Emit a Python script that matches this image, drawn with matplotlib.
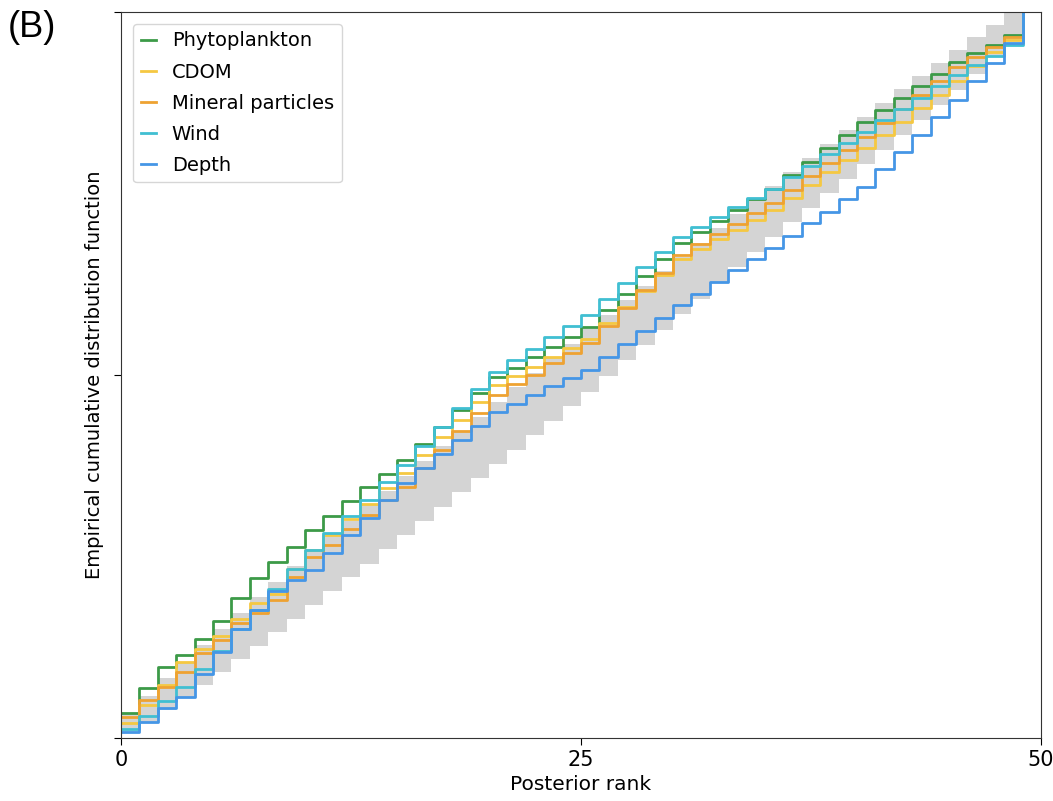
import numpy as np
import matplotlib
matplotlib.use("Agg")
import matplotlib.pyplot as plt

# posterior ranks 0..49, ECDF values
ranks = np.arange(50)

phytoplankton = [0.034, 0.069, 0.098, 0.114, 0.136, 0.161, 0.193, 0.220, 0.242, 0.263,
                 0.286, 0.306, 0.326, 0.345, 0.364, 0.383, 0.405, 0.428, 0.452, 0.475,
                 0.497, 0.510, 0.524, 0.538, 0.552, 0.566, 0.590, 0.612, 0.636, 0.659,
                 0.682, 0.697, 0.712, 0.727, 0.742, 0.756, 0.775, 0.793, 0.812, 0.830,
                 0.848, 0.865, 0.882, 0.898, 0.915, 0.931, 0.944, 0.955, 0.968, 1.0]

cdom = [0.020, 0.045, 0.072, 0.105, 0.122, 0.140, 0.164, 0.186, 0.198, 0.232,
        0.258, 0.280, 0.301, 0.322, 0.344, 0.365, 0.390, 0.414, 0.438, 0.462,
        0.486, 0.498, 0.511, 0.524, 0.537, 0.550, 0.572, 0.594, 0.616, 0.638,
        0.660, 0.673, 0.687, 0.700, 0.714, 0.727, 0.744, 0.761, 0.779, 0.796,
        0.813, 0.831, 0.849, 0.868, 0.886, 0.905, 0.925, 0.945, 0.962, 1.0]

mineral = [0.028, 0.052, 0.070, 0.091, 0.117, 0.135, 0.158, 0.172, 0.190, 0.222,
           0.249, 0.266, 0.287, 0.307, 0.327, 0.346, 0.372, 0.397, 0.422, 0.447,
           0.472, 0.487, 0.500, 0.516, 0.530, 0.544, 0.568, 0.592, 0.617, 0.641,
           0.665, 0.680, 0.694, 0.708, 0.723, 0.737, 0.755, 0.774, 0.792, 0.810,
           0.828, 0.847, 0.866, 0.886, 0.905, 0.924, 0.938, 0.952, 0.966, 1.0]

wind = [0.012, 0.030, 0.050, 0.070, 0.095, 0.120, 0.150, 0.176, 0.205, 0.232,
        0.259, 0.282, 0.305, 0.328, 0.352, 0.376, 0.402, 0.428, 0.454, 0.480,
        0.504, 0.520, 0.536, 0.552, 0.568, 0.583, 0.605, 0.626, 0.648, 0.669,
        0.690, 0.704, 0.718, 0.731, 0.744, 0.756, 0.772, 0.788, 0.804, 0.820,
        0.835, 0.851, 0.866, 0.882, 0.898, 0.913, 0.927, 0.940, 0.955, 1.0]

depth = [0.008, 0.022, 0.041, 0.056, 0.088, 0.118, 0.150, 0.176, 0.202, 0.218,
         0.231, 0.255, 0.279, 0.303, 0.327, 0.351, 0.371, 0.391, 0.410, 0.430,
         0.449, 0.460, 0.472, 0.484, 0.496, 0.507, 0.525, 0.543, 0.560, 0.578,
         0.596, 0.612, 0.628, 0.644, 0.660, 0.675, 0.692, 0.709, 0.725, 0.742,
         0.759, 0.783, 0.807, 0.831, 0.855, 0.879, 0.905, 0.930, 0.957, 1.0]

# confidence band of a uniform ECDF
band_lower = [0.008, 0.022, 0.038, 0.055, 0.072, 0.090, 0.108, 0.126, 0.145, 0.164,
              0.183, 0.202, 0.221, 0.240, 0.260, 0.279, 0.299, 0.318, 0.338, 0.358,
              0.377, 0.397, 0.417, 0.437, 0.457, 0.477, 0.499, 0.520, 0.541, 0.562,
              0.584, 0.605, 0.626, 0.648, 0.669, 0.690, 0.710, 0.730, 0.750, 0.770,
              0.790, 0.810, 0.830, 0.851, 0.872, 0.893, 0.915, 0.938, 0.962, 1.0]
band_upper = [0.032, 0.058, 0.082, 0.105, 0.128, 0.150, 0.172, 0.194, 0.215, 0.236,
              0.257, 0.278, 0.299, 0.320, 0.340, 0.361, 0.381, 0.402, 0.422, 0.442,
              0.463, 0.483, 0.503, 0.523, 0.543, 0.563, 0.583, 0.603, 0.623, 0.643,
              0.662, 0.682, 0.702, 0.721, 0.741, 0.760, 0.780, 0.799, 0.818, 0.837,
              0.856, 0.875, 0.894, 0.912, 0.930, 0.948, 0.965, 0.982, 0.998, 1.0]

names = ["Phytoplankton", "CDOM", "Mineral particles", "Wind", "Depth"]
series = [phytoplankton, cdom, mineral, wind, depth]
colors = ["#3c9a48", "#f5c842", "#eea232", "#40bfd2", "#4596e6"]

fig = plt.figure(figsize=(10.53, 8.01), dpi=100)
ax = fig.add_axes([0.115, 0.079, 0.8736, 0.906])

ax.fill_between(ranks, band_lower, band_upper, step="post", color="#d4d4d4", lw=0)
for name, vals, c in zip(names, series, colors):
    ax.plot(ranks, vals, drawstyle="steps-post", color=c, lw=2, label=name)

ax.set_xlim(0, 50)
ax.set_ylim(0, 1)
ax.set_xticks([0, 25, 50])
ax.set_yticks([0, 0.5, 1])
ax.set_yticklabels([])
ax.tick_params(labelsize=15, length=5)
ax.set_xlabel("Posterior rank", fontsize=14.5)
ax.set_ylabel("Empirical cumulative distribution function", fontsize=14)
for s in ax.spines.values():
    s.set_color("#333333")

ax.legend(loc="upper left", fontsize=14, handlelength=0.8, frameon=True,
          borderaxespad=0.6, labelspacing=0.62)

fig.text(0.007, 0.988, "(B)", fontsize=26, family="Liberation Sans", va="top")

plt.savefig("out.png", dpi=100)
